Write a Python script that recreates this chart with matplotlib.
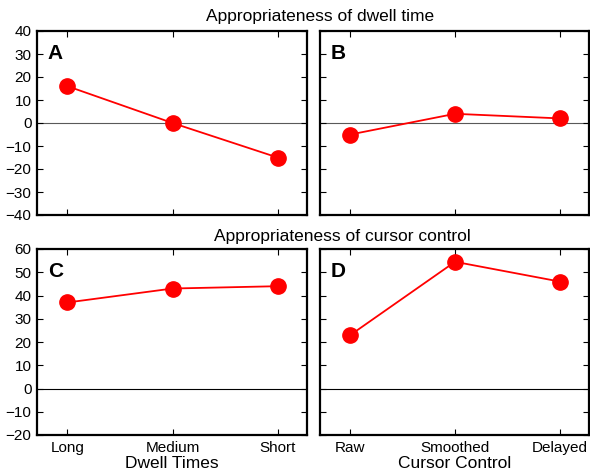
import matplotlib.pyplot as plt

plt.rcParams['font.family'] = ['Liberation Sans', 'DejaVu Sans']

# data
dwell_labels = ['Long', 'Medium', 'Short']
cursor_labels = ['Raw', 'Smoothed', 'Delayed']
a_vals = [16, 0, -15]      # dwell time rating vs dwell times
b_vals = [-5, 4, 2]        # dwell time rating vs cursor control
c_vals = [37, 43, 44]      # cursor control rating vs dwell times
d_vals = [23, 54.5, 46]    # cursor control rating vs cursor control

W, H = 590, 476
fig = plt.figure(figsize=(W / 100, H / 100), dpi=100)


def add_ax(x0, y0, x1, y1):
    return fig.add_axes([x0 / W, 1 - y1 / H, (x1 - x0) / W, (y1 - y0) / H])


axA = add_ax(37, 31, 307, 215)
axB = add_ax(320, 31, 589, 215)
axC = add_ax(37, 249, 307, 435)
axD = add_ax(320, 249, 589, 435)

panels = [
    (axA, a_vals, 'A', (-40, 40), range(-40, 41, 10), '0.35', True, None),
    (axB, b_vals, 'B', (-40, 40), range(-40, 41, 10), '0.35', False, None),
    (axC, c_vals, 'C', (-20, 60), range(-20, 61, 10), 'black', True, 'Dwell Times'),
    (axD, d_vals, 'D', (-20, 60), range(-20, 61, 10), 'black', False, 'Cursor Control'),
]

for ax, vals, letter, ylim, yt, zc, ylab, xlab in panels:
    x = range(len(vals))
    ax.axhline(0, color=zc, lw=0.8, zorder=1)
    ax.plot(x, vals, '-o', color='red', lw=1.3, ms=11, zorder=3)
    ax.set_xlim(-0.29, 2.28)
    ax.set_ylim(*ylim)
    ax.set_yticks(list(yt))
    ax.set_xticks([0, 1, 2])
    ax.tick_params(direction='in', top=True, right=True, length=4, width=0.8,
                   labelsize=11, pad=4)
    for s in ax.spines.values():
        s.set_linewidth(1.6)
    if not ylab:
        ax.set_yticklabels([])
    if xlab is None:
        ax.set_xticklabels([])
    else:
        ax.set_xticklabels(dwell_labels if letter == 'C' else cursor_labels)
        ax.set_xlabel(xlab, fontsize=12.5, labelpad=1)
    ax.text(0.04, 0.93, letter, transform=ax.transAxes, fontsize=15,
            fontweight='bold', ha='left', va='top')

fig.text(320 / W, 1 - 17 / H, 'Appropriateness of dwell time', ha='center',
         va='center', fontsize=12.5)
fig.text(342 / W, 1 - 237 / H, 'Appropriateness of cursor control',
         ha='center', va='center', fontsize=12.5)

fig.savefig('out.png', dpi=100, facecolor='white')
